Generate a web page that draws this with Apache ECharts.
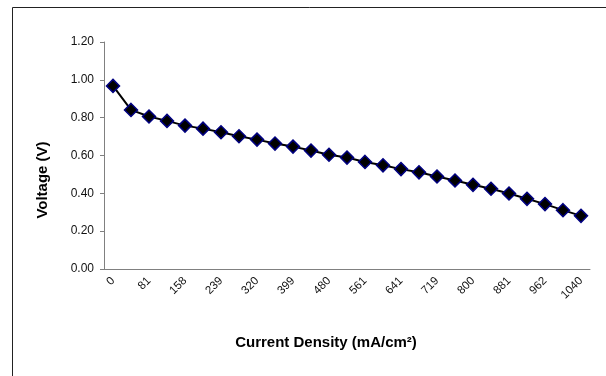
<!DOCTYPE html>
<html>
<head>
<meta charset="utf-8">
<script src="https://cdn.jsdelivr.net/npm/echarts@6/dist/echarts.min.js"></script>
<style>
  html, body { margin: 0; padding: 0; background: #fff; }
  #chart { width: 606px; height: 376px; }
</style>
</head>
<body>
<div id="chart"></div>
<script>
// Polarisation curve: cell voltage against current density
const currentDensity = ['0', '40', '81', '120', '158', '199', '239', '280', '320', '360',
  '399', '440', '480', '520', '561', '600', '641', '680', '719', '760',
  '800', '840', '881', '920', '962', '1000', '1040'];
const voltage = [0.968, 0.841, 0.806, 0.783, 0.758, 0.742, 0.723, 0.702, 0.684, 0.663,
  0.647, 0.626, 0.604, 0.589, 0.566, 0.548, 0.528, 0.511, 0.489, 0.468,
  0.445, 0.424, 0.399, 0.371, 0.343, 0.311, 0.281];
const xTitle = 'Current Density (mA/cm²)';
const yTitle = 'Voltage (V)';

const chart = echarts.init(document.getElementById('chart'), null, { renderer: 'canvas' });
const font = 'Arial, "Liberation Sans", sans-serif';

chart.setOption({
  backgroundColor: '#ffffff',
  animation: false,
  grid: { left: 104, right: 16, top: 42, bottom: 107 },
  xAxis: {
    type: 'category',
    data: currentDensity,
    boundaryGap: true,
    axisLine: { lineStyle: { color: '#808080', width: 1 } },
    axisTick: { interval: 0, length: 4, lineStyle: { color: '#808080' } },
    axisLabel: {
      interval: 1, rotate: 45, margin: 10,
      fontFamily: font, fontSize: 11.5, color: '#111'
    },
    splitLine: { show: false }
  },
  yAxis: {
    type: 'value',
    min: 0, max: 1.2, interval: 0.2,
    axisLine: { show: true, lineStyle: { color: '#808080', width: 1 } },
    axisTick: { show: true, length: 4, lineStyle: { color: '#808080' } },
    axisLabel: {
      margin: 10, fontFamily: font, fontSize: 12, color: '#111',
      formatter: v => v.toFixed(2)
    },
    splitLine: { show: false }
  },
  series: [{
    type: 'line',
    data: voltage,
    symbol: 'diamond',
    symbolSize: 13,
    showAllSymbol: true,
    lineStyle: { color: '#000', width: 2 },
    itemStyle: { color: '#000', borderColor: '#000080', borderWidth: 1.5 }
  }],
  graphic: [
    {
      type: 'rect', silent: true,
      shape: { x: 12.5, y: 7.5, width: 700, height: 500 },
      style: { fill: 'none', stroke: '#222', lineWidth: 1 }
    },
    {
      type: 'text', silent: true,
      x: 326, y: 343,
      style: {
        text: xTitle, font: 'bold 15px ' + font, fill: '#000',
        textAlign: 'center', textVerticalAlign: 'middle'
      }
    },
    {
      type: 'text', silent: true,
      x: 43, y: 180, rotation: Math.PI / 2,
      style: {
        text: yTitle, font: 'bold 15px ' + font, fill: '#000',
        textAlign: 'center', textVerticalAlign: 'middle'
      }
    }
  ]
});
</script>
</body>
</html>
